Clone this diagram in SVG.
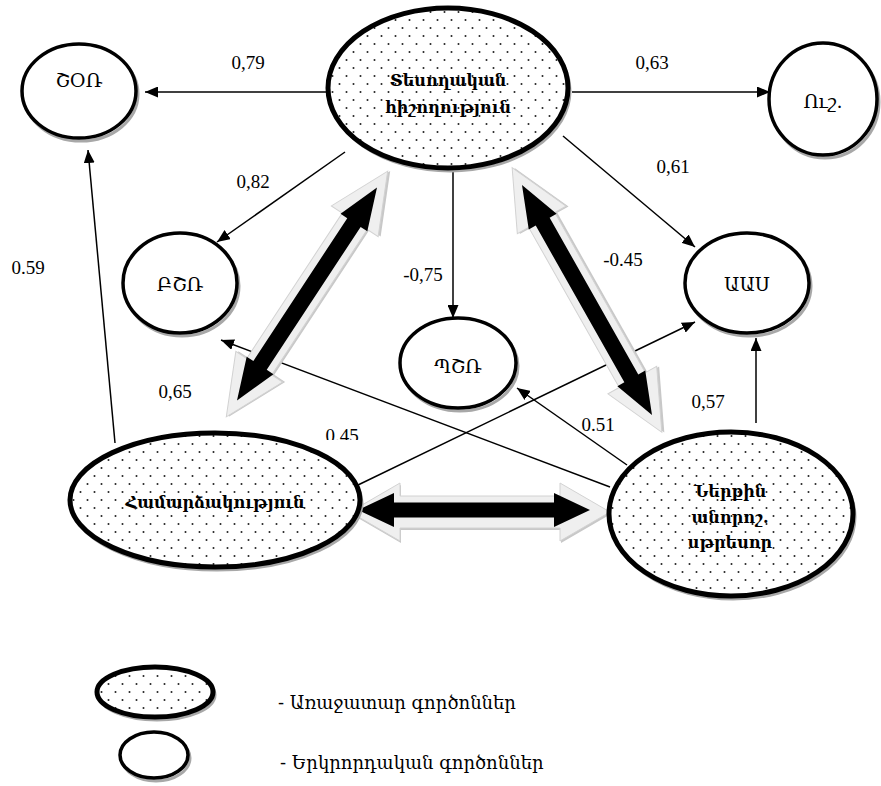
<svg xmlns="http://www.w3.org/2000/svg" width="881" height="786" viewBox="0 0 881 786">
<style>
.conn{stroke:#000;stroke-width:1.5;fill:none}
.lbl{font-family:"Liberation Serif",serif;font-size:19px;fill:#000;text-anchor:middle}
.nt{font-family:"DejaVu Serif","Noto Sans",serif;font-size:19px;fill:#000;text-anchor:middle}
.bt{font-family:"DejaVu Serif","Noto Sans",serif;font-size:16px;font-weight:bold;fill:#000;text-anchor:middle}
.lg{font-family:"DejaVu Serif","Noto Sans",serif;font-size:18px;fill:#000}
.shadow{fill:none;stroke:#a8a8a8;stroke-width:3}
.prim{fill:url(#dots);stroke:#000;stroke-width:5}
.sec{fill:#fff;stroke:#000;stroke-width:3.5}
.gray{fill:#efefef;stroke:#d2d2d2;stroke-width:1}
.grayS{fill:#c8c8c8}
.blk{fill:#000}
</style>
<defs>
<pattern id="dots" width="14" height="16" patternUnits="userSpaceOnUse">
<rect width="14" height="16" fill="#fff"/>
<circle cx="3.5" cy="4" r="1" fill="#222"/>
<circle cx="10.5" cy="12" r="1" fill="#222"/>
</pattern>
<marker id="ah" markerWidth="13" markerHeight="11" refX="13" refY="5.5" orient="auto" markerUnits="userSpaceOnUse">
<path d="M0,0 L13,5.5 L0,11 z" fill="#000"/>
</marker>
<clipPath id="clip45"><rect x="300" y="400" width="100" height="40"/></clipPath>
</defs>
<rect width="881" height="786" fill="#fff"/>

<g id="connectors">
<line class="conn" x1="328" y1="92" x2="145" y2="92" marker-end="url(#ah)"/>
<line class="conn" x1="572" y1="92" x2="770" y2="92" marker-end="url(#ah)"/>
<line class="conn" x1="345" y1="152" x2="217" y2="242" marker-end="url(#ah)"/>
<line class="conn" x1="453" y1="168" x2="453" y2="318" marker-end="url(#ah)"/>
<line class="conn" x1="563" y1="136" x2="695" y2="247" marker-end="url(#ah)"/>
<line class="conn" x1="115" y1="443" x2="88" y2="150" marker-end="url(#ah)"/>
<line class="conn" x1="610" y1="487" x2="221" y2="340" marker-end="url(#ah)"/>
<line class="conn" x1="358" y1="485" x2="695" y2="322" marker-end="url(#ah)"/>
<line class="conn" x1="627" y1="465" x2="517" y2="388" marker-end="url(#ah)"/>
<line class="conn" x1="756" y1="423" x2="756" y2="338" marker-end="url(#ah)"/>

<g id="dbl-left" transform="translate(307,294) rotate(-56.7)">
<path class="grayS" transform="translate(1.5,2)" d="M-147,0 L-87,-28 L-87,-15 L87,-15 L87,-28 L147,0 L87,28 L87,15 L-87,15 L-87,28 Z"/>
<path class="gray" d="M-147,0 L-87,-28 L-87,-15 L87,-15 L87,-28 L147,0 L87,28 L87,15 L-87,15 L-87,28 Z"/>
<path class="blk" d="M-127.5,0 L-85.5,-16 L-85.5,-8 L85.5,-8 L85.5,-16 L127.5,0 L85.5,16 L85.5,8 L-85.5,8 L-85.5,16 Z"/>
</g>
<g id="dbl-right" transform="translate(587,300) rotate(60.5)">
<path class="grayS" transform="translate(1.5,-2)" d="M-152,0 L-92,-28 L-92,-15 L92,-15 L92,-28 L152,0 L92,28 L92,15 L-92,15 L-92,28 Z"/>
<path class="gray" d="M-152,0 L-92,-28 L-92,-15 L92,-15 L92,-28 L152,0 L92,28 L92,15 L-92,15 L-92,28 Z"/>
<path class="blk" d="M-132,0 L-90,-16 L-90,-8 L90,-8 L90,-16 L132,0 L90,16 L90,8 L-90,8 L-90,16 Z"/>
</g>
<g id="dbl-horiz">
<path class="grayS" transform="translate(481,514)" d="M-130,0 L-80,-29 L-80,-16 L80,-16 L80,-29 L130,0 L80,29 L80,16 L-80,16 L-80,29 Z"/>
<path class="gray" transform="translate(480,512)" d="M-130,0 L-80,-29 L-80,-16 L80,-16 L80,-29 L130,0 L80,29 L80,16 L-80,16 L-80,29 Z"/>
<path class="blk" transform="translate(474,510)" d="M-116,0 L-80,-17 L-80,-7.5 L80,-7.5 L80,-17 L116,0 L80,17 L80,7.5 L-80,7.5 L-80,17 Z"/>
</g>

<text class="lbl" x="248" y="69">0,79</text>
<text class="lbl" x="652" y="69">0,63</text>
<text class="lbl" x="253" y="188">0,82</text>
<text class="lbl" x="673" y="173">0,61</text>
<text class="lbl" x="28" y="274">0.59</text>
<text class="lbl" x="423" y="281">-0,75</text>
<text class="lbl" x="623" y="266">-0.45</text>
<text class="lbl" x="175" y="398">0,65</text>
<text class="lbl" x="342" y="442" clip-path="url(#clip45)">0.45</text>
<text class="lbl" x="598" y="431">0.51</text>
<text class="lbl" x="708" y="408">0,57</text>
</g>

<g id="node-visual">
<ellipse class="shadow" cx="450" cy="91" rx="120" ry="80"/>
<ellipse class="prim" cx="448" cy="88" rx="120" ry="80"/>
<text class="bt" x="448" y="86">Տեսողական</text>
<text class="bt" x="448" y="113">հիշողություն</text>
</g>

<g id="node-shor">
<ellipse class="shadow" cx="81" cy="94" rx="57" ry="47"/>
<ellipse class="sec" cx="79" cy="91" rx="57" ry="47"/>
<text class="nt" x="79" y="87">ՇՕՌ</text>
</g>

<g id="node-ush">
<ellipse class="shadow" cx="825" cy="102" rx="54" ry="56"/>
<ellipse class="sec" cx="823" cy="99" rx="54" ry="56"/>
<text class="nt" x="823" y="108">Ուշ.</text>
</g>

<g id="node-bshr">
<ellipse class="shadow" cx="182" cy="286" rx="57" ry="50"/>
<ellipse class="sec" cx="180" cy="283" rx="57" ry="50"/>
<text class="nt" x="180" y="291">ԲՇՌ</text>
</g>

<g id="node-pshr">
<ellipse class="shadow" cx="460" cy="366" rx="58" ry="45"/>
<ellipse class="sec" cx="458" cy="363" rx="58" ry="45"/>
<text class="nt" x="458" y="373">ՊՇՌ</text>
</g>

<g id="node-aas">
<ellipse class="shadow" cx="749" cy="286" rx="62" ry="50"/>
<ellipse class="sec" cx="747" cy="283" rx="62" ry="50"/>
<text class="nt" x="747" y="291">ԱԱՍ</text>
</g>

<g id="node-courage">
<ellipse class="shadow" cx="217" cy="503" rx="145" ry="67"/>
<ellipse class="prim" cx="215" cy="500" rx="145" ry="67"/>
<text class="bt" x="215" y="508">Համարձակություն</text>
</g>

<g id="node-stressor">
<ellipse class="shadow" cx="733" cy="517" rx="122" ry="82"/>
<ellipse class="prim" cx="731" cy="514" rx="122" ry="82"/>
<text class="bt" x="730" y="497">Ներքին</text>
<text class="bt" x="730" y="523">անորոշ.</text>
<text class="bt" x="730" y="548">սթրեսոր</text>
</g>

<g id="legend">
<ellipse class="shadow" cx="157" cy="695" rx="58" ry="25"/>
<ellipse class="prim" cx="155" cy="692" rx="58" ry="25"/>
<ellipse class="shadow" cx="156" cy="758" rx="34" ry="23"/>
<ellipse class="sec" cx="154" cy="755" rx="34" ry="23"/>
<text class="lg" x="278" y="709">- Առաջատար գործոններ</text>
<text class="lg" x="280" y="769">- Երկրորդական գործոններ</text>
</g>
</svg>
